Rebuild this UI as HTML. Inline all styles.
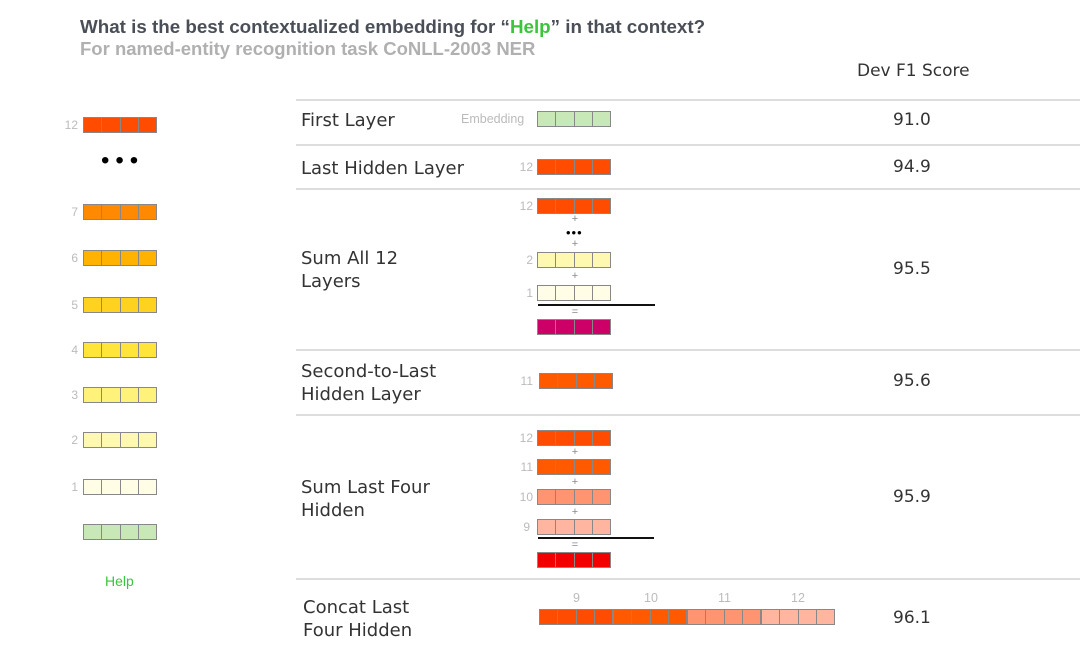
<!DOCTYPE html>
<html><head><meta charset="utf-8"><style>
body{margin:0;width:1080px;height:651px;background:#fff;position:relative;overflow:hidden;font-family:"Liberation Sans","DejaVu Sans",sans-serif}
.a{position:absolute;white-space:nowrap}
.b{position:absolute;width:74px;height:16px;border:1px solid #888;display:flex;box-sizing:border-box}
.b i{flex:1;border-right:1px solid #888}.b i:last-child{border-right:none}
.n{position:absolute;font-size:12px;color:#bbb;text-align:right;width:30px}
.h{position:absolute;left:296px;width:784px;height:2px;background:#ddd}
.l{position:absolute;font-size:18px;color:#333;line-height:23px;font-family:"DejaVu Sans",sans-serif}
.s{position:absolute;left:893px;font-size:17px;color:#333;font-family:"DejaVu Sans",sans-serif}
.p{position:absolute;font-size:11px;color:#888;width:20px;text-align:center}
.rule{position:absolute;height:2px;background:#111}
</style></head><body>
<div class="a" style="left:80px;top:16px;font-size:18.8px;font-weight:bold;color:#4a4f57">What is the best contextualized embedding for “<span style="color:#3cc43c">Help</span>” in that context?</div>
<div class="a" style="left:80px;top:38px;font-size:18.5px;font-weight:bold;color:#b0b0b0">For named-entity recognition task CoNLL-2003 NER</div>
<div class="a" style="left:857px;top:61px;font-size:17px;color:#333;font-family:'DejaVu Sans',sans-serif">Dev F1 Score</div>

<div class="n" style="left:48px;top:118px">12</div><div class="b" style="left:83px;top:117px;background:#ff4c00"><i></i><i></i><i></i><i></i></div>
<div class="a" style="left:101px;top:147px;font-size:24px;letter-spacing:6px;color:#000">•••</div>
<div class="n" style="left:48px;top:205px">7</div><div class="b" style="left:83px;top:204px;background:#ff8900"><i></i><i></i><i></i><i></i></div>
<div class="n" style="left:48px;top:251px">6</div><div class="b" style="left:83px;top:250px;background:#ffb200"><i></i><i></i><i></i><i></i></div>
<div class="n" style="left:48px;top:298px">5</div><div class="b" style="left:83px;top:297px;background:#ffd21f"><i></i><i></i><i></i><i></i></div>
<div class="n" style="left:48px;top:343px">4</div><div class="b" style="left:83px;top:342px;background:#ffe53a"><i></i><i></i><i></i><i></i></div>
<div class="n" style="left:48px;top:388px">3</div><div class="b" style="left:83px;top:387px;background:#fff27a"><i></i><i></i><i></i><i></i></div>
<div class="n" style="left:48px;top:433px">2</div><div class="b" style="left:83px;top:432px;background:#fff8b0"><i></i><i></i><i></i><i></i></div>
<div class="n" style="left:48px;top:480px">1</div><div class="b" style="left:83px;top:479px;background:#fffde6"><i></i><i></i><i></i><i></i></div>
<div class="b" style="left:83px;top:524px;background:#c9e8b8"><i></i><i></i><i></i><i></i></div>
<div class="a" style="left:105px;top:573px;font-size:14px;color:#3cc43c">Help</div>

<div class="h" style="top:99px"></div><div class="h" style="top:144px"></div><div class="h" style="top:188px"></div>
<div class="h" style="top:349px"></div><div class="h" style="top:414px"></div><div class="h" style="top:578px"></div>

<div class="l" style="left:301px;top:109px">First Layer</div>
<div class="l" style="left:301px;top:157px">Last Hidden Layer</div>
<div class="l" style="left:301px;top:247px">Sum All 12<br>Layers</div>
<div class="l" style="left:301px;top:360px">Second-to-Last<br>Hidden Layer</div>
<div class="l" style="left:301px;top:476px">Sum Last Four<br>Hidden</div>
<div class="l" style="left:303px;top:596px">Concat Last<br>Four Hidden</div>

<div class="s" style="top:110px">91.0</div>
<div class="s" style="top:157px">94.9</div>
<div class="s" style="top:259px">95.5</div>
<div class="s" style="top:371px">95.6</div>
<div class="s" style="top:487px">95.9</div>
<div class="s" style="top:608px">96.1</div>

<div class="a" style="left:461px;top:112px;font-size:12.5px;color:#bbb">Embedding</div>
<div class="b" style="left:537px;top:111px;background:#c9e8b8"><i></i><i></i><i></i><i></i></div>
<div class="n" style="left:503px;top:160px">12</div><div class="b" style="left:537px;top:159px;background:#ff4c00"><i></i><i></i><i></i><i></i></div>
<div class="n" style="left:503px;top:199px">12</div><div class="b" style="left:537px;top:198px;background:#ff4c00"><i></i><i></i><i></i><i></i></div>
<div class="p" style="left:565px;top:213px">+</div>
<div class="a" style="left:566px;top:225px;font-size:13px;letter-spacing:1px;color:#000">•••</div>
<div class="p" style="left:565px;top:238px">+</div>
<div class="n" style="left:503px;top:253px">2</div><div class="b" style="left:537px;top:252px;background:#fff8b0"><i></i><i></i><i></i><i></i></div>
<div class="p" style="left:565px;top:270px">+</div>
<div class="n" style="left:503px;top:286px">1</div><div class="b" style="left:537px;top:285px;background:#fffde6"><i></i><i></i><i></i><i></i></div>
<div class="rule" style="left:538px;top:304px;width:117px"></div>
<div class="p" style="left:565px;top:306px">=</div>
<div class="b" style="left:537px;top:319px;background:#cc0066"><i></i><i></i><i></i><i></i></div>
<div class="n" style="left:503px;top:374px">11</div><div class="b" style="left:539px;top:373px;background:#ff5a00"><i></i><i></i><i></i><i></i></div>
<div class="n" style="left:503px;top:431px">12</div><div class="b" style="left:537px;top:430px;background:#ff4c00"><i></i><i></i><i></i><i></i></div>
<div class="p" style="left:565px;top:446px">+</div>
<div class="n" style="left:503px;top:460px">11</div><div class="b" style="left:537px;top:459px;background:#ff5a00"><i></i><i></i><i></i><i></i></div>
<div class="p" style="left:565px;top:476px">+</div>
<div class="n" style="left:503px;top:490px">10</div><div class="b" style="left:537px;top:489px;background:#ff9470"><i></i><i></i><i></i><i></i></div>
<div class="p" style="left:565px;top:506px">+</div>
<div class="n" style="left:500px;top:520px">9</div><div class="b" style="left:537px;top:519px;background:#ffb59f"><i></i><i></i><i></i><i></i></div>
<div class="rule" style="left:538px;top:537px;width:116px"></div>
<div class="p" style="left:565px;top:539px">=</div>
<div class="b" style="left:537px;top:552px;background:#f20000"><i></i><i></i><i></i><i></i></div>
<div class="a" style="left:573px;top:591px;font-size:12.5px;color:#bbb">9</div>
<div class="a" style="left:644px;top:591px;font-size:12.5px;color:#bbb">10</div>
<div class="a" style="left:718px;top:591px;font-size:12.5px;color:#bbb">11</div>
<div class="a" style="left:791px;top:591px;font-size:12.5px;color:#bbb">12</div>
<div class="b" style="left:539px;top:609px;background:#ff4c00"><i></i><i></i><i></i><i></i></div>
<div class="b" style="left:613px;top:609px;background:#ff5a00"><i></i><i></i><i></i><i></i></div>
<div class="b" style="left:687px;top:609px;background:#ff9470"><i></i><i></i><i></i><i></i></div>
<div class="b" style="left:761px;top:609px;background:#ffb59f"><i></i><i></i><i></i><i></i></div>
</body></html>
